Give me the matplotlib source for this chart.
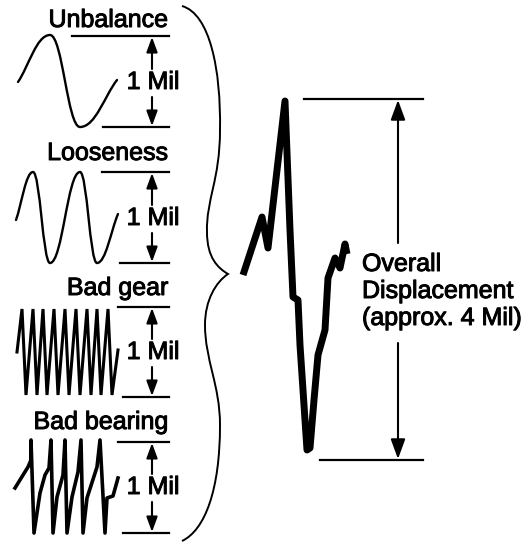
import matplotlib.pyplot as plt
from matplotlib.path import Path
from matplotlib.patches import PathPatch
import matplotlib.patheffects as pe

plt.rcParams["font.family"] = ["Liberation Sans", "DejaVu Sans"]

W, H = 532, 544

# panel labels and the y of their reference lines (pixel coords, y down)
LABELS = ["Unbalance", "Looseness", "Bad gear", "Bad bearing"]
LABEL_Y = [27, 160, 295, 429]
TOP_Y = [36, 172, 307, 442]
BOT_Y = [127, 263, 397, 533]
TOP_X0 = [72, 102, 118, 118]
BOT_X0 = [103, 120, 123, 123]
MIL_Y = [82, 218, 352, 487]

# smooth waves: extremum nodes
unb_x = [18, 50, 80, 117]
unb_y = [82, 35, 127, 80]
loose_x = [16, 33, 50, 80, 97, 118]
loose_y = [220, 172, 263, 172, 263, 214]

# bad gear zigzag
gear_x = [17, 22, 26, 33, 37, 43, 47, 54, 58, 65, 69, 76, 80, 87, 91, 97, 101, 108, 112, 118]
gear_y = [352, 309, 395, 309, 395, 309, 395, 309, 395, 309, 395, 309, 395, 309, 395, 309, 395, 309, 395, 350]

# bad bearing
bear_x = [15, 28, 31, 31, 34, 40, 45, 49, 51, 53, 57, 63, 65, 67, 72, 78, 81, 83, 87, 97, 100, 105, 107, 113, 118]
bear_y = [488, 467, 460, 440, 533, 493, 475, 468, 440, 533, 497, 475, 440, 533, 497, 472, 440, 533, 498, 467, 440, 533, 498, 496, 478]

# overall waveform
main_x = [243, 262, 268, 285, 290, 293, 298, 300, 307, 310, 314, 318, 325, 328, 335, 340, 345, 347]
main_y = [275, 217, 248, 101, 230, 297, 300, 345, 450, 448, 400, 355, 330, 278, 258, 268, 244, 254]

# brace (cubic bezier vertices)
brace_pts = [(182, 6), (210, 14), (221, 70), (220, 130),
             (220, 180), (206, 200), (207, 232),
             (207, 258), (218, 268), (228, 274),
             (216, 282), (205, 300), (205, 325),
             (205, 360), (220, 385), (220, 425),
             (220, 490), (205, 530), (182, 541)]

OV_TOP, OV_BOT = 99, 460
OV_X = 398

BOLDISH = [pe.withStroke(linewidth=0.7, foreground="black")]


def wave_path(xs, ys, k=0.42):
    verts = [(xs[0], ys[0])]
    codes = [Path.MOVETO]
    n = len(xs)
    for i in range(n - 1):
        x0, y0, x1, y1 = xs[i], ys[i], xs[i + 1], ys[i + 1]
        dx = x1 - x0
        if i == 0:
            c1 = (x0 + (x1 - x0) / 3, y0 + (y1 - y0) / 3)
        else:
            c1 = (x0 + k * dx, y0)
        if i == n - 2:
            c2 = (x1 - (x1 - x0) / 3, y1 - (y1 - y0) / 3)
        else:
            c2 = (x1 - k * dx, y1)
        verts += [c1, c2, (x1, y1)]
        codes += [Path.CURVE4] * 3
    return Path(verts, codes)


def arrow(ax, x, y_from, y_to, ms, lw):
    ax.annotate("", xy=(x, y_to), xytext=(x, y_from),
                arrowprops=dict(arrowstyle="-|>,head_length=0.6,head_width=0.22",
                                color="black", lw=lw, mutation_scale=ms,
                                shrinkA=0, shrinkB=0))


fig = plt.figure(figsize=(W / 100, H / 100), dpi=100)
ax = fig.add_axes([0, 0, 1, 1])
ax.set_xlim(0, W)
ax.set_ylim(H, 0)
ax.axis("off")

for i, label in enumerate(LABELS):
    ax.text(168, LABEL_Y[i], label, ha="right", va="baseline", fontsize=18,
            path_effects=BOLDISH)
    ax.plot([TOP_X0[i], 169], [TOP_Y[i]] * 2, color="black", lw=1.6)
    ax.plot([BOT_X0[i], 169], [BOT_Y[i]] * 2, color="black", lw=1.6)
    ax.text(153, MIL_Y[i], "1 Mil", ha="center", va="center", fontsize=18,
            path_effects=BOLDISH)
    arrow(ax, 152, MIL_Y[i] - 13, TOP_Y[i] + 1, 15, 1.5)
    arrow(ax, 152, MIL_Y[i] + 15, BOT_Y[i] - 1, 15, 1.5)

ax.add_patch(PathPatch(wave_path(unb_x, unb_y), fill=False, lw=1.7, capstyle="round"))
ax.add_patch(PathPatch(wave_path(loose_x, loose_y), fill=False, lw=1.7, capstyle="round"))
ax.plot(gear_x, gear_y, color="black", lw=2.2, solid_joinstyle="miter")
ax.plot(bear_x, bear_y, color="black", lw=2.6, solid_joinstyle="round")

brace_codes = [Path.MOVETO] + [Path.CURVE4] * (len(brace_pts) - 1)
ax.add_patch(PathPatch(Path(brace_pts, brace_codes), fill=False, lw=1.4))

ax.plot(main_x, main_y, color="black", lw=5.0, solid_joinstyle="round", solid_capstyle="butt")

ax.plot([304, 423], [OV_TOP] * 2, color="black", lw=1.6)
ax.plot([320, 423], [OV_BOT] * 2, color="black", lw=1.6)
arrow(ax, OV_X, 243, OV_TOP + 1, 20, 1.5)
arrow(ax, OV_X, 343, OV_BOT - 1, 20, 1.5)
for txt, yb in zip(["Overall", "Displacement", "(approx. 4 Mil)"], [271, 298, 325]):
    ax.text(362, yb, txt, ha="left", va="baseline", fontsize=18, path_effects=BOLDISH)

fig.savefig("out.png", dpi=100)
